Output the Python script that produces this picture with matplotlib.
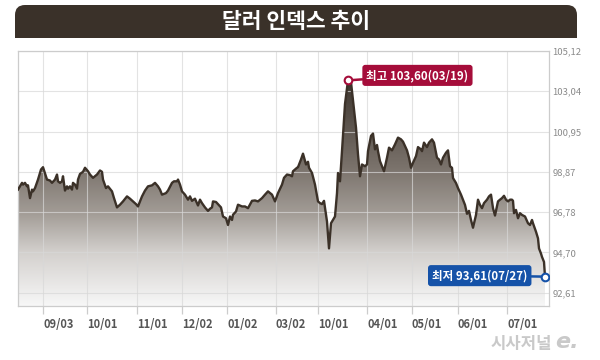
import numpy as np
import matplotlib
matplotlib.use("Agg")
import matplotlib.pyplot as plt
from matplotlib.colors import LinearSegmentedColormap
from matplotlib.patches import FancyBboxPatch, Rectangle, PathPatch

plt.rcParams['font.family'] = ['Noto Sans CJK KR', 'DejaVu Sans']

# trading-day position and dollar index value
day = [0, 4, 5, 7, 9, 10, 12, 14, 15, 17, 20, 23, 25, 29, 32, 34, 37, 39, 40, 42,
       44, 45, 47, 49, 50, 52, 54, 55, 57, 59, 60, 62, 65, 67, 70, 72, 75, 79, 82, 84,
       85, 88, 90, 94, 96, 99, 102, 105, 109, 112, 115, 118, 120, 124, 127, 130, 134, 137, 140, 142,
       144, 148, 150, 154, 156, 159, 160, 162, 164, 167, 170, 172, 174, 177, 180, 182, 184, 187, 190, 192,
       194, 195, 198, 200, 203, 205, 208, 210, 212, 214, 215, 218, 220, 224, 227, 230, 234, 237, 240, 244,
       247, 250, 254, 257, 260, 264, 266, 269, 272, 274, 275, 279, 280, 283, 285, 288, 290, 291, 294, 297,
       300, 302, 304, 306, 309, 311, 313, 315, 317, 319, 320, 322, 324, 327, 330, 333, 335, 338, 340, 342,
       344, 347, 349, 350, 353, 355, 357, 359, 360, 362, 364, 366, 369, 371, 374, 377, 380, 383, 385, 389,
       391, 393, 395, 398, 400, 403, 404, 406, 409, 411, 414, 416, 419, 421, 423, 425, 428, 430, 432, 434,
       435, 438, 440, 443, 445, 447, 449, 451, 453, 455, 458, 460, 462, 464, 466, 469, 471, 473, 475, 477,
       480, 482, 484, 486, 488, 490, 492, 494, 495, 496, 498, 500, 502, 504, 507, 510, 512, 514, 515, 518,
       520, 521, 523, 524, 526, 527]
dxy = [97.95, 98.30, 98.21, 98.30, 98.12, 98.17, 97.51, 97.95, 97.86, 98.03, 98.47, 98.99, 99.11, 98.47, 98.42, 98.30, 98.47, 98.73, 98.38, 98.30,
       98.38, 98.64, 97.90, 98.12, 98.00, 98.12, 97.95, 98.30, 98.21, 98.00, 98.47, 98.76, 98.87, 99.08, 98.90, 98.73, 98.56, 98.73, 98.94, 98.87,
       98.47, 98.03, 98.12, 97.86, 97.51, 97.03, 97.17, 97.34, 97.60, 97.48, 97.34, 97.20, 97.08, 97.60, 97.90, 98.12, 98.17, 98.30, 98.12, 97.95,
       97.69, 97.77, 97.90, 98.30, 98.38, 98.38, 98.47, 98.21, 97.86, 97.69, 97.43, 97.60, 97.37, 97.48, 97.13, 97.43, 97.25, 97.03, 96.85, 96.96,
       97.03, 97.34, 97.31, 97.20, 97.03, 96.56, 96.47, 96.12, 96.56, 96.38, 96.65, 96.82, 97.17, 97.08, 97.08, 96.99, 97.37, 97.39, 97.34, 97.51,
       97.69, 97.86, 97.69, 97.34, 97.77, 98.21, 98.56, 98.73, 98.70, 98.64, 98.90, 99.08, 99.11, 99.51, 99.81, 99.25, 99.39, 99.08, 98.81, 98.21,
       97.34, 97.25, 97.20, 97.37, 96.30, 94.91, 96.21, 96.38, 96.56, 97.77, 98.81, 98.38, 99.94, 102.38, 103.60, 103.51, 102.55, 101.16, 99.77, 98.64,
       99.25, 99.16, 99.25, 99.94, 100.73, 100.85, 100.03, 100.26, 99.94, 99.42, 99.16, 98.90, 99.60, 100.12, 99.98, 100.29, 100.64, 100.55, 100.43, 99.98,
       99.60, 99.08, 99.34, 99.68, 100.15, 100.03, 99.94, 100.38, 100.15, 100.38, 100.55, 100.38, 99.60, 99.51, 99.25, 99.60, 99.86, 99.98, 99.16, 99.08,
       98.55, 98.29, 98.03, 97.69, 97.43, 97.16, 96.70, 96.85, 96.38, 95.98, 96.64, 97.43, 97.16, 96.99, 97.25, 97.43, 97.60, 97.69, 96.99, 96.61,
       97.34, 97.43, 97.51, 97.63, 97.43, 97.34, 97.43, 97.43, 97.37, 96.73, 96.90, 96.47, 96.73, 96.64, 96.56, 96.21, 96.12, 96.38, 96.21, 95.77,
       95.43, 94.91, 94.64, 94.47, 94.21, 93.45]

tick_days = [25, 69, 119, 164, 209, 258, 300, 349, 394, 440, 489]
tick_labels = ["09/03", "10/01", "11/01", "12/02", "01/02", "03/02", "10/01", "04/01", "05/01", "06/01", "07/01"]
y_ticks = [92.61, 94.70, 96.78, 98.87, 100.95, 103.04, 105.12]

high_day, high_val, high_text = 330, 103.60, "최고 103,60(03/19)"
low_day, low_val, low_text = 527, 93.45, "최저 93,61(07/27)"

title = "달러 인덱스 추이"

ymin, ymax = 91.93, 105.12
xmin, xmax = 0, 531

fig = plt.figure(figsize=(6, 3.6), dpi=100)
fig.patch.set_facecolor("white")

# overlay in pixel units for the title bar and watermark
bg = fig.add_axes([0, 0, 1, 1])
bg.set_xlim(0, 600)
bg.set_ylim(360, 0)
bg.axis("off")
bar_col = "#3a3129"
bg.add_patch(FancyBboxPatch((15, 5), 562, 33, boxstyle="round,pad=0,rounding_size=10",
                            fc=bar_col, ec="none"))
bg.add_patch(Rectangle((15, 20), 562, 18, fc=bar_col, ec="none"))
bg.text(296, 22, title, color="white", fontsize=15.5, fontweight="black", ha="center", va="center")
bg.text(552, 344, "시사저널", color="#c9c9c9", fontsize=12, fontweight="black",
        ha="right", va="center")
bg.text(555, 342, "e.", color="#c9c9c9", fontsize=16, fontweight="black", style="italic",
        family="DejaVu Sans", ha="left", va="center")

ax = fig.add_axes([18 / 600, 54 / 360, 531 / 600, 255 / 360])
ax.set_facecolor("white")

# gradient fill under the line
cmap = LinearSegmentedColormap.from_list("dxyfill", [
    (0.0, "#f7f7f7"), (0.21, "#d3d0cd"), (0.36, "#a39d97"),
    (0.536, "#7c746d"), (0.876, "#3e362f"), (1.0, "#342c25")])
fill = ax.fill_between(day, dxy, ymin, color="none", lw=0)
clip = PathPatch(fill.get_paths()[0], transform=ax.transData, fc="none", ec="none")
ax.add_patch(clip)
grad = np.linspace(1, 0, 256).reshape(-1, 1)
im = ax.imshow(grad, cmap=cmap, extent=[xmin, xmax, ymin, ymax], aspect="auto", zorder=1)
im.set_clip_path(clip)

for d in tick_days:
    ax.axvline(d, color="#d8d8d8", lw=0.8, alpha=0.7, zorder=2)
for v in y_ticks:
    ax.axhline(v, color="#d8d8d8", lw=0.8, alpha=0.7, zorder=2)

ax.plot(day, dxy, color="#3b3128", lw=1.7, zorder=3, solid_joinstyle="round")

ax.set_xlim(xmin, xmax)
ax.set_ylim(ymin, ymax)

for s in ax.spines.values():
    s.set_color("#cccccc")
    s.set_linewidth(0.9)

ax.yaxis.tick_right()
ax.set_yticks(y_ticks)
ax.set_yticklabels([f"{v:.2f}".replace(".", ",") for v in y_ticks])
ax.tick_params(axis="y", length=0, pad=2.5, labelsize=6.8, labelcolor="#8a8a8a")

ax.set_xticks(tick_days)
ax.set_xticklabels(tick_labels)
ax.tick_params(axis="x", length=6, width=0.9, color="#cccccc", pad=3,
               labelsize=8, labelcolor="#555555")
for lab in ax.get_xticklabels():
    lab.set_ha("left")
    lab.set_fontweight("bold")

red = "#a50d3a"
blue = "#1552a8"
ax.annotate(high_text, (high_day, high_val), xytext=(50, 3.6), textcoords="offset points",
            ha="center", va="center", color="white", fontsize=8.3, fontweight="bold",
            bbox=dict(boxstyle="round,pad=0.35,rounding_size=0.25", fc=red, ec="none"),
            arrowprops=dict(arrowstyle="-", color=red, lw=1.8, shrinkA=0, shrinkB=2),
            zorder=5)
ax.plot(high_day, high_val, "o", ms=5.5, mfc="white", mec=red, mew=1.5, zorder=6)

ax.annotate(low_text, (low_day, low_val), xytext=(-47, 0.7), textcoords="offset points",
            ha="center", va="center", color="white", fontsize=8.3, fontweight="bold",
            bbox=dict(boxstyle="round,pad=0.35,rounding_size=0.25", fc=blue, ec="none"),
            arrowprops=dict(arrowstyle="-", color=blue, lw=1.8, shrinkA=0, shrinkB=2),
            zorder=5)
ax.plot(low_day, low_val, "o", ms=5.5, mfc="white", mec=blue, mew=1.5, zorder=6)

fig.savefig("out.png", dpi=100, facecolor="white")
